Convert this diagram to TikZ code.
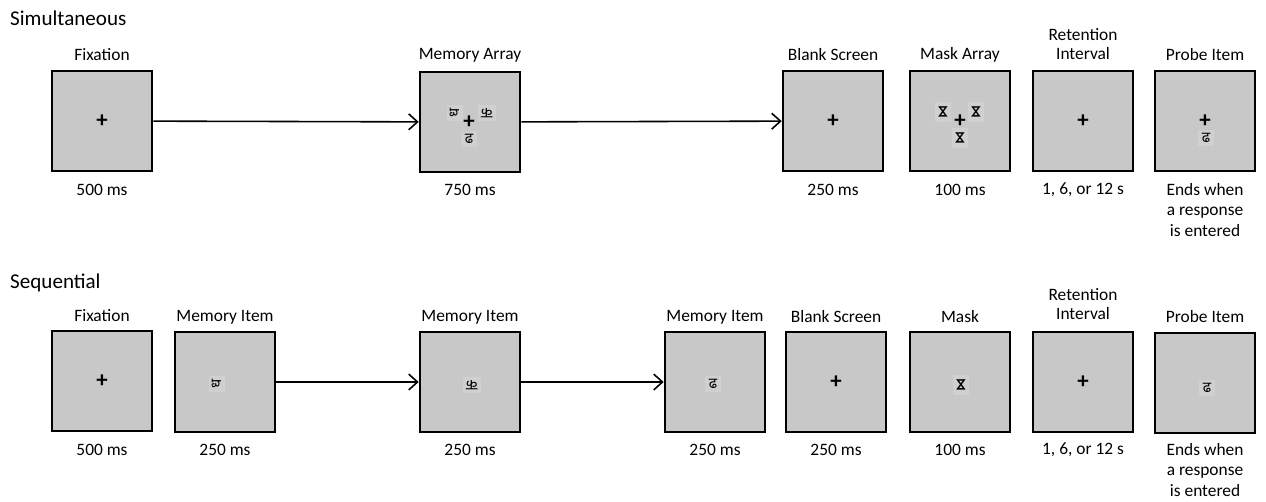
\documentclass[tikz,border=0pt]{standalone}
\usepackage{fontspec}
\setmainfont{Carlito}
\newfontfamily\devfont[Script=Devanagari]{Noto Sans}
\newfontfamily\symfont{DejaVu Sans}
\usetikzlibrary{arrows.meta}

\definecolor{scrgray}{RGB}{200,200,200}
\definecolor{patchgray}{RGB}{208,208,208}

\tikzset{
  screen/.style={draw, line width=1.5pt, fill=scrgray, minimum size=2.0cm, inner sep=0pt},
  lbl/.style={font=\fontsize{9.9}{11}\selectfont, align=center},
  ends/.style={font=\fontsize{9.9}{11.4}\selectfont, align=center},
  condtitle/.style={font=\fontsize{12}{14}\selectfont, anchor=west},
  fix/.style={font=\bfseries\fontsize{13}{13}\selectfont, inner sep=0pt},
  stim/.style={font=\devfont\bfseries\fontsize{8.5}{8.5}\selectfont, fill=patchgray, inner sep=2pt},
  maskst/.style={font=\symfont\bfseries\fontsize{7.5}{7.5}\selectfont, fill=patchgray, inner sep=2pt, rotate=90},
  flow/.style={-{Straight Barb[length=5pt,width=9pt]}, line width=0.9pt},
}

\begin{document}
\begin{tikzpicture}[x=0.02cm, y=-0.02cm]
\useasboundingbox (0,0) rectangle (1266,501);

% simultaneous condition
\node[condtitle] (sim) at (4,18) {Simultaneous};
\node[screen] (s1) at (102,121) {};
\node[screen] (s2) at (470,122) {};
\node[screen] (s3) at (833,121) {};
\node[screen] (s4) at (960,121) {};
\node[screen] (s5) at (1083,121) {};
\node[screen] (s6) at (1205,121) {};
\node[lbl] (s1t) at (102,55) {Fixation};
\node[lbl] (s2t) at (470,55) {Memory Array};
\node[lbl] (s3t) at (833,55) {Blank Screen};
\node[lbl] (s4t) at (960,55) {Mask Array};
\node[lbl] (s5t) at (1083,44) {Retention\\Interval};
\node[lbl] (s6t) at (1205,55) {Probe Item};
\node[lbl] (s1b) at (102,190) {500 ms};
\node[lbl] (s2b) at (470,190) {750 ms};
\node[lbl] (s3b) at (833,190) {250 ms};
\node[lbl] (s4b) at (960,190) {100 ms};
\node[lbl] (s5b) at (1083,190) {1, 6, or 12 s};
\node[ends] (s6b) at (1205,210) {Ends when\\a response\\is entered};
% screen contents
\node[fix] (s1x) at (102,121) {+};
\node[stim, rotate=90] (s2a) at (455,113) {ध};
\node[stim, rotate=180] (s2c) at (487,113) {क};
\node[stim] (s2d) at (469,139) {ढ};
\node[fix] (s2x) at (469,122) {+};
\node[fix] (s3x) at (833,121) {+};
\node[maskst] (s4a) at (943,112) {⋈};
\node[maskst] (s4c) at (976,112) {⋈};
\node[maskst] (s4d) at (960,138) {⋈};
\node[fix] (s4x) at (960,121) {+};
\node[fix] (s5x) at (1083,121) {+};
\node[stim] (s6d) at (1206,138) {ढ};
\node[fix] (s6x) at (1205,121) {+};
\draw[flow] (s1) -- (s2);
\draw[flow] (s2) -- (s3);

% sequential condition
\node[condtitle] (seq) at (4,283) {Sequential};
\node[screen] (q1) at (102,381) {};
\node[screen] (q2) at (225,382) {};
\node[screen] (q3) at (470,382) {};
\node[screen] (q4) at (715,382) {};
\node[screen] (q5) at (836,382) {};
\node[screen] (q6) at (960,382) {};
\node[screen] (q7) at (1083,382) {};
\node[screen] (q8) at (1205,383) {};
\node[lbl] (q1t) at (102,316) {Fixation};
\node[lbl] (q2t) at (225,317) {Memory Item};
\node[lbl] (q3t) at (470,317) {Memory Item};
\node[lbl] (q4t) at (715,317) {Memory Item};
\node[lbl] (q5t) at (836,317) {Blank Screen};
\node[lbl] (q6t) at (960,317) {Mask};
\node[lbl] (q7t) at (1083,304) {Retention\\Interval};
\node[lbl] (q8t) at (1205,317) {Probe Item};
\node[lbl] (q1b) at (102,450) {500 ms};
\node[lbl] (q2b) at (225,450) {250 ms};
\node[lbl] (q3b) at (470,450) {250 ms};
\node[lbl] (q4b) at (715,450) {250 ms};
\node[lbl] (q5b) at (836,450) {250 ms};
\node[lbl] (q6b) at (960,450) {100 ms};
\node[lbl] (q7b) at (1083,450) {1, 6, or 12 s};
\node[ends] (q8b) at (1205,470) {Ends when\\a response\\is entered};
% screen contents
\node[fix] (q1x) at (102,381) {+};
\node[stim, rotate=90] (q2a) at (217,384) {ध};
\node[stim, rotate=180] (q3c) at (472,385) {क};
\node[stim] (q4d) at (713,384) {ढ};
\node[fix] (q5x) at (836,382) {+};
\node[maskst] (q6a) at (961,385) {⋈};
\node[fix] (q7x) at (1083,382) {+};
\node[stim] (q8d) at (1207,388) {ढ};
\draw[flow] (q2) -- (q3);
\draw[flow] (q3) -- (q4);
\end{tikzpicture}
\end{document}
